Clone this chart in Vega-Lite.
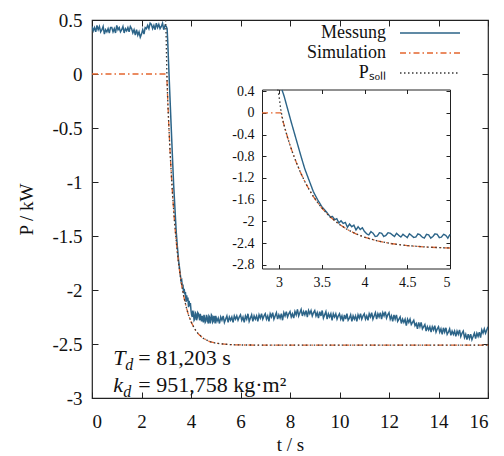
{
"$schema": "https://vega.github.io/schema/vega-lite/v6.json",
"width": 396, "height": 378,
"autosize": "none",
"padding": {"left": 92, "top": 20, "right": 16, "bottom": 58},
"background": "white",
"config": {
 "view": {"stroke": "#222", "strokeWidth": 1.2},
 "font": "Liberation Serif",
 "style": {"guide-label": {"font": "Liberation Serif"}, "guide-title": {"font": "Liberation Serif"}},
 "axis": {"labelFont": "Liberation Serif", "titleFont": "Liberation Serif", "labelColor": "#111", "titleColor": "#111", "tickColor": "#222", "domainColor": "#222", "grid": false, "titleFontWeight": "normal", "tickWidth": 1, "labelExpr": "datum.value == 0 ? '0' : (datum.value < 0 ? '-' : '') + format(abs(datum.value), '~g')"},
 "legend": {"orient": "none", "legendX": 329, "legendY": 4, "padding": 0, "labelFont": "Liberation Serif", "labelFontSize": 18, "labelColor": "#111", "labelAlign": "right", "labelOffset": -53, "symbolType": "M-6,0H6", "symbolSize": 100, "symbolStrokeWidth": 1.5, "rowPadding": 2, "labelLimit": 0}
},
"datasets": {
 "mess": [
  {"t":0,"P":0.44},{"t":0.05,"P":0.40},{"t":0.1,"P":0.43},{"t":0.15,"P":0.39},{"t":0.2,"P":0.45},{"t":0.25,"P":0.41},{"t":0.3,"P":0.44},{"t":0.35,"P":0.39},{"t":0.4,"P":0.41},{"t":0.45,"P":0.44},
  {"t":0.5,"P":0.37},{"t":0.55,"P":0.41},{"t":0.6,"P":0.39},{"t":0.65,"P":0.42},{"t":0.7,"P":0.38},{"t":0.75,"P":0.43},{"t":0.8,"P":0.43},{"t":0.85,"P":0.39},{"t":0.9,"P":0.42},{"t":0.95,"P":0.38},
  {"t":1.0,"P":0.45},{"t":1.05,"P":0.41},{"t":1.1,"P":0.43},{"t":1.15,"P":0.39},{"t":1.2,"P":0.41},{"t":1.25,"P":0.44},{"t":1.3,"P":0.38},{"t":1.35,"P":0.42},{"t":1.4,"P":0.40},{"t":1.45,"P":0.43},
  {"t":1.5,"P":0.39},{"t":1.55,"P":0.44},{"t":1.6,"P":0.42},{"t":1.65,"P":0.38},{"t":1.7,"P":0.41},{"t":1.75,"P":0.36},{"t":1.8,"P":0.41},{"t":1.85,"P":0.36},{"t":1.9,"P":0.39},{"t":1.95,"P":0.34},
  {"t":2.0,"P":0.37},{"t":2.05,"P":0.41},{"t":2.1,"P":0.37},{"t":2.15,"P":0.43},{"t":2.2,"P":0.42},{"t":2.25,"P":0.45},{"t":2.3,"P":0.42},{"t":2.35,"P":0.47},{"t":2.4,"P":0.46},{"t":2.45,"P":0.42},
  {"t":2.5,"P":0.45},{"t":2.55,"P":0.41},{"t":2.6,"P":0.47},{"t":2.65,"P":0.43},{"t":2.7,"P":0.46},{"t":2.75,"P":0.42},{"t":2.8,"P":0.44},{"t":2.85,"P":0.47},{"t":2.9,"P":0.41},{"t":2.95,"P":0.45},
  {"t":3.0,"P":0.44},{"t":3.035,"P":0.42},{"t":3.06,"P":0.30},{"t":3.1,"P":0.07},{"t":3.14,"P":-0.16},{"t":3.18,"P":-0.38},{"t":3.22,"P":-0.60},{"t":3.26,"P":-0.82},{"t":3.3,"P":-1.03},{"t":3.35,"P":-1.24},
  {"t":3.4,"P":-1.45},{"t":3.45,"P":-1.60},{"t":3.5,"P":-1.73},{"t":3.55,"P":-1.82},{"t":3.6,"P":-1.92},{"t":3.625,"P":-1.91},{"t":3.65,"P":-1.97},{"t":3.675,"P":-1.95},{"t":3.7,"P":-2.03},{"t":3.725,"P":-1.99},{"t":3.75,"P":-2.04},{"t":3.775,"P":-2.02},{"t":3.8,"P":-2.11},{"t":3.825,"P":-2.05},{"t":3.85,"P":-2.10},
  {"t":3.875,"P":-2.07},{"t":3.9,"P":-2.16},{"t":3.925,"P":-2.10},{"t":3.95,"P":-2.15},{"t":3.975,"P":-2.12},
  {"t":4.0,"P":-2.19},{"t":4.025,"P":-2.23},{"t":4.05,"P":-2.25},{"t":4.075,"P":-2.19},{"t":4.1,"P":-2.22},{"t":4.125,"P":-2.28},{"t":4.15,"P":-2.27},{"t":4.175,"P":-2.21},{"t":4.2,"P":-2.22},{"t":4.225,"P":-2.28},{"t":4.25,"P":-2.26},{"t":4.275,"P":-2.21},{"t":4.3,"P":-2.22},{"t":4.325,"P":-2.25},{"t":4.35,"P":-2.28},{"t":4.375,"P":-2.22},{"t":4.4,"P":-2.26},{"t":4.425,"P":-2.29},{"t":4.45,"P":-2.24},{"t":4.475,"P":-2.27},
  {"t":4.5,"P":-2.30},{"t":4.525,"P":-2.23},{"t":4.55,"P":-2.26},{"t":4.575,"P":-2.30},{"t":4.6,"P":-2.29},{"t":4.625,"P":-2.23},{"t":4.65,"P":-2.25},{"t":4.675,"P":-2.29},{"t":4.7,"P":-2.31},{"t":4.725,"P":-2.24},{"t":4.75,"P":-2.25},{"t":4.775,"P":-2.31},{"t":4.8,"P":-2.28},{"t":4.825,"P":-2.23},{"t":4.85,"P":-2.24},{"t":4.875,"P":-2.30},{"t":4.9,"P":-2.29},{"t":4.925,"P":-2.24},{"t":4.95,"P":-2.26},{"t":4.975,"P":-2.31},
  {"t":5.0,"P":-2.24},{"t":5.05,"P":-2.29},{"t":5.1,"P":-2.26},{"t":5.15,"P":-2.31},{"t":5.2,"P":-2.25},{"t":5.25,"P":-2.28},{"t":5.3,"P":-2.24},{"t":5.35,"P":-2.30},{"t":5.4,"P":-2.27},{"t":5.45,"P":-2.24},
  {"t":5.5,"P":-2.30},{"t":5.55,"P":-2.25},{"t":5.6,"P":-2.28},{"t":5.65,"P":-2.25},{"t":5.7,"P":-2.30},{"t":5.75,"P":-2.24},{"t":5.8,"P":-2.27},{"t":5.85,"P":-2.24},{"t":5.9,"P":-2.28},{"t":5.95,"P":-2.25},
  {"t":6.0,"P":-2.23},{"t":6.05,"P":-2.28},{"t":6.1,"P":-2.25},{"t":6.15,"P":-2.30},{"t":6.2,"P":-2.24},{"t":6.25,"P":-2.27},{"t":6.3,"P":-2.22},{"t":6.35,"P":-2.29},{"t":6.4,"P":-2.26},{"t":6.45,"P":-2.23},
  {"t":6.5,"P":-2.29},{"t":6.55,"P":-2.24},{"t":6.6,"P":-2.27},{"t":6.65,"P":-2.24},{"t":6.7,"P":-2.29},{"t":6.75,"P":-2.23},{"t":6.8,"P":-2.26},{"t":6.85,"P":-2.22},{"t":6.9,"P":-2.27},{"t":6.95,"P":-2.24},
  {"t":7.0,"P":-2.22},{"t":7.05,"P":-2.27},{"t":7.1,"P":-2.24},{"t":7.15,"P":-2.29},{"t":7.2,"P":-2.22},{"t":7.25,"P":-2.25},{"t":7.3,"P":-2.21},{"t":7.35,"P":-2.27},{"t":7.4,"P":-2.24},{"t":7.45,"P":-2.21},
  {"t":7.5,"P":-2.27},{"t":7.55,"P":-2.23},{"t":7.6,"P":-2.26},{"t":7.65,"P":-2.22},{"t":7.7,"P":-2.28},{"t":7.75,"P":-2.21},{"t":7.8,"P":-2.24},{"t":7.85,"P":-2.20},{"t":7.9,"P":-2.25},{"t":7.95,"P":-2.22},
  {"t":8.0,"P":-2.20},{"t":8.05,"P":-2.25},{"t":8.1,"P":-2.22},{"t":8.15,"P":-2.26},{"t":8.2,"P":-2.20},{"t":8.25,"P":-2.23},{"t":8.3,"P":-2.18},{"t":8.35,"P":-2.24},{"t":8.4,"P":-2.21},{"t":8.45,"P":-2.18},
  {"t":8.5,"P":-2.24},{"t":8.55,"P":-2.20},{"t":8.6,"P":-2.23},{"t":8.65,"P":-2.19},{"t":8.7,"P":-2.25},{"t":8.75,"P":-2.19},{"t":8.8,"P":-2.22},{"t":8.85,"P":-2.19},{"t":8.9,"P":-2.24},{"t":8.95,"P":-2.21},
  {"t":9.0,"P":-2.19},{"t":9.05,"P":-2.24},{"t":9.1,"P":-2.21},{"t":9.15,"P":-2.26},{"t":9.2,"P":-2.20},{"t":9.25,"P":-2.24},{"t":9.3,"P":-2.19},{"t":9.35,"P":-2.26},{"t":9.4,"P":-2.23},{"t":9.45,"P":-2.20},
  {"t":9.5,"P":-2.27},{"t":9.55,"P":-2.22},{"t":9.6,"P":-2.25},{"t":9.65,"P":-2.22},{"t":9.7,"P":-2.28},{"t":9.75,"P":-2.22},{"t":9.8,"P":-2.25},{"t":9.85,"P":-2.22},{"t":9.9,"P":-2.27},{"t":9.95,"P":-2.24},
  {"t":10.0,"P":-2.22},{"t":10.05,"P":-2.27},{"t":10.1,"P":-2.24},{"t":10.15,"P":-2.29},{"t":10.2,"P":-2.23},{"t":10.25,"P":-2.27},{"t":10.3,"P":-2.22},{"t":10.35,"P":-2.28},{"t":10.4,"P":-2.26},{"t":10.45,"P":-2.23},
  {"t":10.5,"P":-2.29},{"t":10.55,"P":-2.24},{"t":10.6,"P":-2.27},{"t":10.65,"P":-2.24},{"t":10.7,"P":-2.29},{"t":10.75,"P":-2.23},{"t":10.8,"P":-2.26},{"t":10.85,"P":-2.22},{"t":10.9,"P":-2.27},{"t":10.95,"P":-2.24},
  {"t":11.0,"P":-2.22},{"t":11.05,"P":-2.27},{"t":11.1,"P":-2.24},{"t":11.15,"P":-2.28},{"t":11.2,"P":-2.22},{"t":11.25,"P":-2.25},{"t":11.3,"P":-2.21},{"t":11.35,"P":-2.27},{"t":11.4,"P":-2.24},{"t":11.45,"P":-2.21},
  {"t":11.5,"P":-2.27},{"t":11.55,"P":-2.22},{"t":11.6,"P":-2.25},{"t":11.65,"P":-2.21},{"t":11.7,"P":-2.27},{"t":11.75,"P":-2.21},{"t":11.8,"P":-2.24},{"t":11.85,"P":-2.20},{"t":11.9,"P":-2.26},{"t":11.95,"P":-2.23},
  {"t":12.0,"P":-2.21},{"t":12.05,"P":-2.27},{"t":12.1,"P":-2.24},{"t":12.15,"P":-2.29},{"t":12.2,"P":-2.23},{"t":12.25,"P":-2.27},{"t":12.3,"P":-2.23},{"t":12.35,"P":-2.29},{"t":12.4,"P":-2.27},{"t":12.45,"P":-2.25},
  {"t":12.5,"P":-2.31},{"t":12.55,"P":-2.27},{"t":12.6,"P":-2.30},{"t":12.65,"P":-2.27},{"t":12.7,"P":-2.33},{"t":12.75,"P":-2.27},{"t":12.8,"P":-2.30},{"t":12.85,"P":-2.27},{"t":12.9,"P":-2.32},{"t":12.95,"P":-2.30},
  {"t":13.0,"P":-2.28},{"t":13.05,"P":-2.33},{"t":13.1,"P":-2.31},{"t":13.15,"P":-2.36},{"t":13.2,"P":-2.30},{"t":13.25,"P":-2.34},{"t":13.3,"P":-2.30},{"t":13.35,"P":-2.36},{"t":13.4,"P":-2.34},{"t":13.45,"P":-2.32},
  {"t":13.5,"P":-2.38},{"t":13.55,"P":-2.34},{"t":13.6,"P":-2.37},{"t":13.65,"P":-2.34},{"t":13.7,"P":-2.39},{"t":13.75,"P":-2.34},{"t":13.8,"P":-2.37},{"t":13.85,"P":-2.33},{"t":13.9,"P":-2.39},{"t":13.95,"P":-2.36},
  {"t":14.0,"P":-2.34},{"t":14.05,"P":-2.39},{"t":14.1,"P":-2.36},{"t":14.15,"P":-2.41},{"t":14.2,"P":-2.35},{"t":14.25,"P":-2.39},{"t":14.3,"P":-2.35},{"t":14.35,"P":-2.41},{"t":14.4,"P":-2.39},{"t":14.45,"P":-2.36},
  {"t":14.5,"P":-2.42},{"t":14.55,"P":-2.38},{"t":14.6,"P":-2.41},{"t":14.65,"P":-2.38},{"t":14.7,"P":-2.43},{"t":14.75,"P":-2.38},{"t":14.8,"P":-2.41},{"t":14.85,"P":-2.37},{"t":14.9,"P":-2.43},{"t":14.95,"P":-2.40},
  {"t":15.0,"P":-2.38},{"t":15.05,"P":-2.44},{"t":15.1,"P":-2.41},{"t":15.15,"P":-2.46},{"t":15.2,"P":-2.41},{"t":15.25,"P":-2.45},{"t":15.3,"P":-2.41},{"t":15.35,"P":-2.46},{"t":15.4,"P":-2.43},{"t":15.45,"P":-2.40},
  {"t":15.5,"P":-2.45},{"t":15.55,"P":-2.40},{"t":15.6,"P":-2.43},{"t":15.65,"P":-2.39},{"t":15.7,"P":-2.44},{"t":15.75,"P":-2.37},{"t":15.8,"P":-2.40},{"t":15.85,"P":-2.36},{"t":15.9,"P":-2.40},{"t":15.95,"P":-2.37},
  {"t":16.0,"P":-2.34}
 ],
 "sim": [
  {"t":0,"P":0},{"t":2.8,"P":0},{"t":3.02,"P":0},{"t":3.05,"P":-0.181},{"t":3.1,"P":-0.455},{"t":3.15,"P":-0.697},{"t":3.2,"P":-0.909},{"t":3.25,"P":-1.098},{"t":3.3,"P":-1.264},{"t":3.35,"P":-1.41},
  {"t":3.4,"P":-1.539},{"t":3.45,"P":-1.653},{"t":3.5,"P":-1.754},{"t":3.55,"P":-1.842},{"t":3.6,"P":-1.921},{"t":3.7,"P":-2.051},{"t":3.8,"P":-2.153},{"t":3.9,"P":-2.232},{"t":4.0,"P":-2.293},{"t":4.15,"P":-2.361},
  {"t":4.3,"P":-2.408},{"t":4.5,"P":-2.448},{"t":4.75,"P":-2.477},{"t":5.0,"P":-2.492},{"t":5.5,"P":-2.505},{"t":6,"P":-2.509},{"t":7,"P":-2.51},{"t":16,"P":-2.51}
 ],
 "soll": [
  {"t":2.975,"P":0.5},{"t":2.985,"P":0.43},{"t":3.0,"P":0.30},{"t":3.02,"P":0.06},{"t":3.035,"P":-0.07},{"t":3.05,"P":-0.18},{"t":3.075,"P":-0.33},{"t":3.1,"P":-0.46},{"t":3.15,"P":-0.70},{"t":3.2,"P":-0.91},
  {"t":3.25,"P":-1.098},{"t":3.3,"P":-1.264},{"t":3.35,"P":-1.41},{"t":3.4,"P":-1.539},{"t":3.45,"P":-1.653},{"t":3.5,"P":-1.754},{"t":3.55,"P":-1.842},{"t":3.6,"P":-1.921},{"t":3.7,"P":-2.051},{"t":3.8,"P":-2.153},
  {"t":3.9,"P":-2.232},{"t":4.0,"P":-2.293},{"t":4.15,"P":-2.361},{"t":4.3,"P":-2.408},{"t":4.5,"P":-2.448},{"t":4.75,"P":-2.477},{"t":5.0,"P":-2.492},{"t":5.5,"P":-2.505},{"t":6,"P":-2.509},{"t":7,"P":-2.51},{"t":16,"P":-2.51}
 ]
},
"layer": [
 {
  "layer": [
   {"data": {"name": "mess"}, "mark": {"type": "line", "strokeWidth": 1.5, "clip": true},
    "encoding": {
     "x": {"field": "t", "type": "quantitative", "scale": {"domain": [0, 16], "nice": false, "zero": false},
       "axis": {"orient": "bottom", "values": [0,2,4,6,8,10,12,14,16], "tickSize": -6, "labelFont": "Liberation Serif", "labelFontSize": 19, "labelPadding": 20, "title": "t / s", "titleFont": "Liberation Serif", "titleFontSize": 19, "titlePadding": 4, "domain": false}},
     "y": {"field": "P", "type": "quantitative", "scale": {"domain": [-3, 0.5], "nice": false, "zero": false},
       "axis": {"orient": "left", "values": [-3,-2.5,-2,-1.5,-1,-0.5,0,0.5], "tickSize": -6, "labelFont": "Liberation Serif", "labelFontSize": 19, "labelPadding": 16, "title": "P / kW", "titleFont": "Liberation Serif", "titleFontSize": 19, "titlePadding": 15, "domain": false}},
     "color": {"datum": "Messung", "scale": {"domain": ["Messung", "Simulation", "P_soll"], "range": ["#2c6488", "#e4652e", "#383838"]},
       "legend": {"title": null, "labelFont": "Liberation Serif", "labelExpr": "datum.label == 'P_soll' ? 'Pₛₒₗₗ' : datum.label"}},
     "strokeDash": {"datum": "Messung", "scale": {"domain": ["Messung", "Simulation", "P_soll"], "range": [[1, 0], [6, 3, 1.5, 3], [1.5, 2.5]]},
       "legend": {"title": null, "labelFont": "Liberation Serif", "labelExpr": "datum.label == 'P_soll' ? 'Pₛₒₗₗ' : datum.label"}}
    }},
   {"data": {"name": "sim"}, "mark": {"type": "line", "strokeWidth": 1.3, "clip": true},
    "encoding": {
     "x": {"field": "t", "type": "quantitative", "axis": null},
     "y": {"field": "P", "type": "quantitative", "axis": null},
     "color": {"datum": "Simulation"},
     "strokeDash": {"datum": "Simulation"}
    }},
   {"data": {"name": "soll"}, "mark": {"type": "line", "strokeWidth": 1.3, "clip": true},
    "encoding": {
     "x": {"field": "t", "type": "quantitative", "axis": null},
     "y": {"field": "P", "type": "quantitative", "axis": null},
     "color": {"datum": "P_soll"},
     "strokeDash": {"datum": "P_soll"}
    }},
   {"data": {"values": [{}]}, "mark": {"type": "point", "opacity": 0},
    "encoding": {
     "x": {"datum": 8, "type": "quantitative", "axis": {"orient": "top", "values": [0,2,4,6,8,10,12,14,16], "tickSize": -6, "labels": false, "title": null, "domain": false}},
     "y": {"datum": -1, "type": "quantitative", "axis": {"orient": "right", "values": [-3,-2.5,-2,-1.5,-1,-0.5,0,0.5], "tickSize": -6, "labels": false, "title": null, "domain": false}}
    }},
   {"data": {"values": [{}]}, "mark": {"type": "text", "text": "T", "font": "Liberation Serif", "fontSize": 22, "fontStyle": "italic", "align": "left", "baseline": "alphabetic", "color": "#111"},
    "encoding": {"x": {"datum": 0.86, "type": "quantitative", "axis": null}, "y": {"datum": -2.695, "type": "quantitative", "axis": null}}},
   {"data": {"values": [{}]}, "mark": {"type": "text", "text": "d", "font": "Liberation Serif", "fontSize": 16, "fontStyle": "italic", "align": "left", "baseline": "alphabetic", "dx": 12, "dy": 5, "color": "#111"},
    "encoding": {"x": {"datum": 0.86, "type": "quantitative", "axis": null}, "y": {"datum": -2.695, "type": "quantitative", "axis": null}}},
   {"data": {"values": [{}]}, "mark": {"type": "text", "text": "= 81,203 s", "font": "Liberation Serif", "fontSize": 22, "align": "left", "baseline": "alphabetic", "dx": 25, "color": "#111"},
    "encoding": {"x": {"datum": 0.86, "type": "quantitative", "axis": null}, "y": {"datum": -2.695, "type": "quantitative", "axis": null}}},
   {"data": {"values": [{}]}, "mark": {"type": "text", "text": "k", "font": "Liberation Serif", "fontSize": 22, "fontStyle": "italic", "align": "left", "baseline": "alphabetic", "color": "#111"},
    "encoding": {"x": {"datum": 0.86, "type": "quantitative", "axis": null}, "y": {"datum": -2.945, "type": "quantitative", "axis": null}}},
   {"data": {"values": [{}]}, "mark": {"type": "text", "text": "d", "font": "Liberation Serif", "fontSize": 16, "fontStyle": "italic", "align": "left", "baseline": "alphabetic", "dx": 10, "dy": 5, "color": "#111"},
    "encoding": {"x": {"datum": 0.86, "type": "quantitative", "axis": null}, "y": {"datum": -2.945, "type": "quantitative", "axis": null}}},
   {"data": {"values": [{}]}, "mark": {"type": "text", "text": "= 951,758 kg·m²", "font": "Liberation Serif", "fontSize": 22, "align": "left", "baseline": "alphabetic", "dx": 25, "color": "#111"},
    "encoding": {"x": {"datum": 0.86, "type": "quantitative", "axis": null}, "y": {"datum": -2.945, "type": "quantitative", "axis": null}}}
  ],
  "resolve": {"axis": {"x": "independent", "y": "independent"}}
 },
 {
  "layer": [
   {"data": {"name": "mess"}, "transform": [{"filter": "datum.t >= 3.035 && datum.t <= 5"}], "mark": {"type": "line", "strokeWidth": 1.4},
    "encoding": {
     "x": {"field": "t", "type": "quantitative", "scale": {"domain": [2.8, 5], "range": [170, 358], "nice": false, "zero": false},
       "axis": {"orient": "bottom", "offset": -129.5, "values": [3, 3.5, 4, 4.5, 5], "tickSize": -4, "labelFont": "Liberation Serif", "labelFontSize": 14, "labelPadding": 11, "title": null, "domain": true}},
     "y": {"field": "P", "type": "quantitative", "scale": {"domain": [-2.87, 0.43], "range": [248.5, 69.5], "nice": false, "zero": false},
       "axis": {"orient": "left", "offset": -170, "values": [0.4, 0, -0.4, -0.8, -1.2, -1.6, -2, -2.4, -2.8], "tickSize": -4, "labelFont": "Liberation Serif", "labelFontSize": 14, "labelPadding": 12, "title": null, "domain": true}},
     "color": {"datum": "Messung", "legend": null},
     "strokeDash": {"datum": "Messung", "legend": null}
    }},
   {"data": {"name": "sim"}, "transform": [{"filter": "datum.t >= 2.8 && datum.t <= 5"}], "mark": {"type": "line", "strokeWidth": 1.3},
    "encoding": {
     "x": {"field": "t", "type": "quantitative", "axis": null},
     "y": {"field": "P", "type": "quantitative", "axis": null},
     "color": {"datum": "Simulation", "legend": null},
     "strokeDash": {"datum": "Simulation", "legend": null}
    }},
   {"data": {"name": "soll"}, "transform": [{"filter": "datum.t >= 2.8 && datum.t <= 5 && datum.P <= 0.43"}], "mark": {"type": "line", "strokeWidth": 1.3},
    "encoding": {
     "x": {"field": "t", "type": "quantitative", "axis": null},
     "y": {"field": "P", "type": "quantitative", "axis": null},
     "color": {"datum": "P_soll", "legend": null},
     "strokeDash": {"datum": "P_soll", "legend": null}
    }},
   {"data": {"values": [{}]}, "mark": {"type": "point", "opacity": 0},
    "encoding": {
     "x": {"datum": 4, "type": "quantitative", "axis": {"orient": "top", "offset": -69.5, "values": [3, 3.5, 4, 4.5, 5], "tickSize": -4, "labels": false, "title": null, "domain": true}},
     "y": {"datum": -1, "type": "quantitative", "axis": {"orient": "right", "offset": -38, "values": [0.4, 0, -0.4, -0.8, -1.2, -1.6, -2, -2.4, -2.8], "tickSize": -4, "labels": false, "title": null, "domain": true}}
    }}
  ],
  "resolve": {"axis": {"x": "independent", "y": "independent"}}
 }
],
"resolve": {"scale": {"x": "independent", "y": "independent"}}
}
